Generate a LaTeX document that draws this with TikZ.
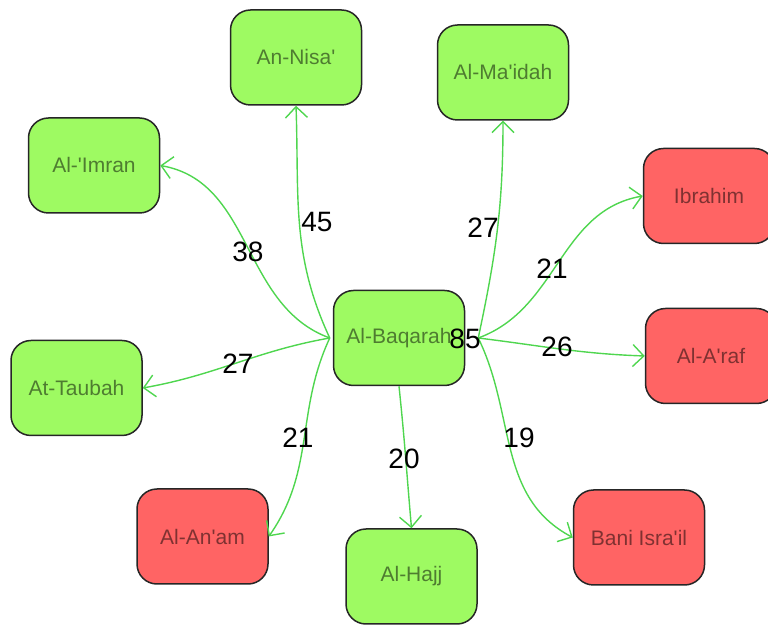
\documentclass[tikz,border=0pt]{standalone}
\usepackage{fontspec}
\setmainfont{Liberation Sans}
\usepackage{xcolor}
\usetikzlibrary{arrows.meta, positioning, calc}
\definecolor{okgreen}{HTML}{9EFA62}
\definecolor{badred}{HTML}{FF6464}
\definecolor{linkgreen}{HTML}{4FD64F}

\begin{document}
\begin{tikzpicture}[x=1pt, y=1pt,
    surah/.style={rectangle, rounded corners=20pt, draw=black!85, line width=1.5pt,
        minimum width=131pt, minimum height=95pt, inner sep=0pt,
        text=black, text opacity=0.5, font=\fontsize{21}{25}\selectfont},
    good/.style={surah, fill=okgreen},
    bad/.style={surah, fill=badred},
    link/.style={draw=linkgreen, line width=1.4pt, -{Straight Barb[length=11pt, width=22pt]}},
    count/.style={font=\fontsize{28}{32}\selectfont, inner sep=0pt}]
    \useasboundingbox (0,0) rectangle (768,626);

    % surahs
    \node[good] (baq)     at (399,288)   {Al-Baqarah};
    \node[good] (nisa)    at (296,568.5) {An-Nisa\textquotesingle};
    \node[good] (maidah)  at (503,553.5) {Al-Ma\textquotesingle idah};
    \node[good] (imran)   at (94,460.5)  {Al-\textquotesingle Imran};
    \node[bad]  (ibrahim) at (709,430)   {Ibrahim};
    \node[good] (taubah)  at (76.5,238)  {At-Taubah};
    \node[bad]  (araf)    at (711,270)   {Al-A\textquotesingle raf};
    \node[bad]  (anam)    at (202.5,89.5) {Al-An\textquotesingle am};
    \node[good] (hajj)    at (411.5,49.5) {Al-Hajj};
    \node[bad]  (bani)    at (639,88.5)  {Bani Isra\textquotesingle il};

    \coordinate (hubL) at ([xshift=-3pt]baq.west);
    \coordinate (hubR) at ([xshift=13pt]baq.east);

    % links
    \draw[link] (hubL) to[out=160, in=-10] (imran.east);
    \draw[link] (hubL) to[out=115, in=-88] (nisa.south);
    \draw[link] (hubL) to[out=190, in=10] (taubah.east);
    \draw[link] (hubL) to[out=245, in=55] (anam.east);
    \draw[link] (baq.south) to[out=-84, in=95] (hajj.north);
    \draw[link] (hubR) to[out=78, in=-90] (maidah.south);
    \draw[link] (hubR) to[out=20, in=190] (ibrahim.west);
    \draw[link] (hubR) to[out=-7, in=178] (araf.west);
    \draw[link] (hubR) to[out=-64, in=152] (bani.west);

    % counts
    \node[count] (c85)     at (465,287) {85};
    \node[count] (cimran)  at (248,374) {38};
    \node[count] (cnisa)   at (317,404) {45};
    \node[count] (ctaubah) at (238,262) {27};
    \node[count] (canam)   at (298,188) {21};
    \node[count] (chajj)   at (404,167) {20};
    \node[count] (cmaidah) at (483,398) {27};
    \node[count] (cibr)    at (552,357) {21};
    \node[count] (caraf)   at (557,279) {26};
    \node[count] (cbani)   at (519,188) {19};
\end{tikzpicture}
\end{document}
